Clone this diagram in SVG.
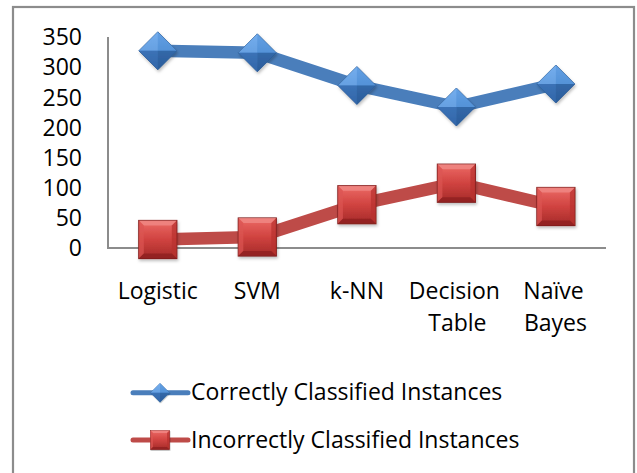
<svg xmlns="http://www.w3.org/2000/svg" width="637" height="473" viewBox="0 0 637 473">
  <style>
    .lbl { font-family: "Open Sans", "Liberation Sans", sans-serif; font-size: 23px; fill: #000; }
    .ytick { text-anchor: end; }
    .cat { text-anchor: middle; }
    .axis { stroke: #8c8c8c; stroke-width: 2; fill: none; }
    .blue { stroke: #4a7ebb; stroke-width: 12.5; fill: none; stroke-linejoin: round; }
    .red { stroke: #be4b48; stroke-width: 12.5; fill: none; stroke-linejoin: round; }
  </style>
  <defs>
    <linearGradient id="gBlue" x1="0" y1="0" x2="0" y2="1">
      <stop offset="0" stop-color="#6aa6ea"/>
      <stop offset="0.5" stop-color="#4a86cc"/>
      <stop offset="1" stop-color="#2f62a3"/>
    </linearGradient>
    <linearGradient id="gRed" x1="0" y1="0" x2="0" y2="1">
      <stop offset="0" stop-color="#ec6a66"/>
      <stop offset="0.5" stop-color="#d04340"/>
      <stop offset="1" stop-color="#a52a28"/>
    </linearGradient>
    <filter id="sh" x="-30%" y="-30%" width="160%" height="160%">
      <feDropShadow dx="1" dy="2" stdDeviation="1.5" flood-color="#000" flood-opacity="0.25"/>
    </filter>
    <symbol id="diamond" viewBox="-20 -20 40 40" overflow="visible">
      <g filter="url(#sh)">
        <polygon points="0,-19 19,0 0,19 -19,0" fill="url(#gBlue)" stroke="#2d5a92" stroke-width="0.8"/>
        <polygon points="0,-19 19,0 0,0" fill="#5c9be0" opacity="0.6"/>
        <polygon points="0,-19 -19,0 0,0" fill="#7ab2f0" opacity="0.6"/>
        <polygon points="-19,0 0,19 0,0" fill="#3469ad" opacity="0.7"/>
        <polygon points="19,0 0,19 0,0" fill="#2a5b99" opacity="0.7"/>
      </g>
    </symbol>
    <symbol id="square" viewBox="-20 -20 40 40" overflow="visible">
      <g filter="url(#sh)">
        <rect x="-19" y="-19" width="38" height="38" fill="url(#gRed)" stroke="#7e1f1d" stroke-width="1.2"/>
        <polygon points="-19,-19 19,-19 14,-14 -14,-14" fill="#f08a86" opacity="0.8"/>
        <polygon points="-19,-19 -14,-14 -14,14 -19,19" fill="#dc5652" opacity="0.7"/>
        <polygon points="19,-19 19,19 14,14 14,-14" fill="#b8302d" opacity="0.7"/>
        <polygon points="-19,19 19,19 14,14 -14,14" fill="#8e2220" opacity="0.8"/>
      </g>
    </symbol>
  </defs>

  <rect x="0" y="0" width="637" height="473" fill="#fff"/>
  <g id="frame">
    <rect x="13" y="7" width="621" height="480" fill="none" stroke="#8c8c8c" stroke-width="2.2"/>
  </g>

  <g id="axes">
    <line class="axis" x1="108" y1="37" x2="108" y2="248"/>
    <line class="axis" x1="107" y1="248" x2="606" y2="248"/>
    <text class="lbl ytick" x="82" y="256.3">0</text>
    <text class="lbl ytick" x="82" y="226.1">50</text>
    <text class="lbl ytick" x="82" y="195.9">100</text>
    <text class="lbl ytick" x="82" y="165.8">150</text>
    <text class="lbl ytick" x="82" y="135.6">200</text>
    <text class="lbl ytick" x="82" y="105.5">250</text>
    <text class="lbl ytick" x="82" y="75.3">300</text>
    <text class="lbl ytick" x="82" y="45.2">350</text>
    <text class="lbl cat" x="157.8" y="298.5">Logistic</text>
    <text class="lbl cat" x="257.3" y="298.5">SVM</text>
    <text class="lbl cat" x="356.9" y="298.5">k-NN</text>
    <text class="lbl cat" x="454.4" y="298.5">Decision</text>
    <text class="lbl cat" x="457.4" y="330.5">Table</text>
    <text class="lbl cat" x="553.5" y="298.5">Naïve</text>
    <text class="lbl cat" x="555.4" y="330.5">Bayes</text>
  </g>

  <g id="connectors">
    <polyline class="blue" points="157.8,50.8 257.3,52.8 356.9,85.5 456.4,107 555.9,84"/>
    <polyline class="red" points="157.8,239.5 257.3,237 356.9,204.7 456.4,183.2 555.9,206.5"/>
  </g>

  <g id="correct-logistic"><use href="#diamond" x="137.8" y="30.8" width="40" height="40"/></g>
  <g id="correct-svm"><use href="#diamond" x="237.3" y="32.8" width="40" height="40"/></g>
  <g id="correct-knn"><use href="#diamond" x="336.9" y="65.5" width="40" height="40"/></g>
  <g id="correct-decision"><use href="#diamond" x="436.4" y="87" width="40" height="40"/></g>
  <g id="correct-naive"><use href="#diamond" x="535.9" y="64" width="40" height="40"/></g>

  <g id="incorrect-logistic"><use href="#square" x="137.8" y="219.5" width="40" height="40"/></g>
  <g id="incorrect-svm"><use href="#square" x="237.3" y="217" width="40" height="40"/></g>
  <g id="incorrect-knn"><use href="#square" x="336.9" y="184.7" width="40" height="40"/></g>
  <g id="incorrect-decision"><use href="#square" x="436.4" y="163.2" width="40" height="40"/></g>
  <g id="incorrect-naive"><use href="#square" x="535.9" y="186.5" width="40" height="40"/></g>

  <g id="legend">
    <line x1="133" y1="392.7" x2="188" y2="392.7" stroke="#4a7ebb" stroke-width="5" stroke-linecap="round"/>
    <use href="#diamond" x="150" y="382.7" width="20" height="20"/>
    <text class="lbl" x="191" y="399.8">Correctly Classified Instances</text>
    <line x1="133" y1="440" x2="188" y2="440" stroke="#be4b48" stroke-width="5" stroke-linecap="round"/>
    <use href="#square" x="150" y="430" width="20" height="20"/>
    <text class="lbl" x="191" y="448">Incorrectly Classified Instances</text>
  </g>
</svg>
